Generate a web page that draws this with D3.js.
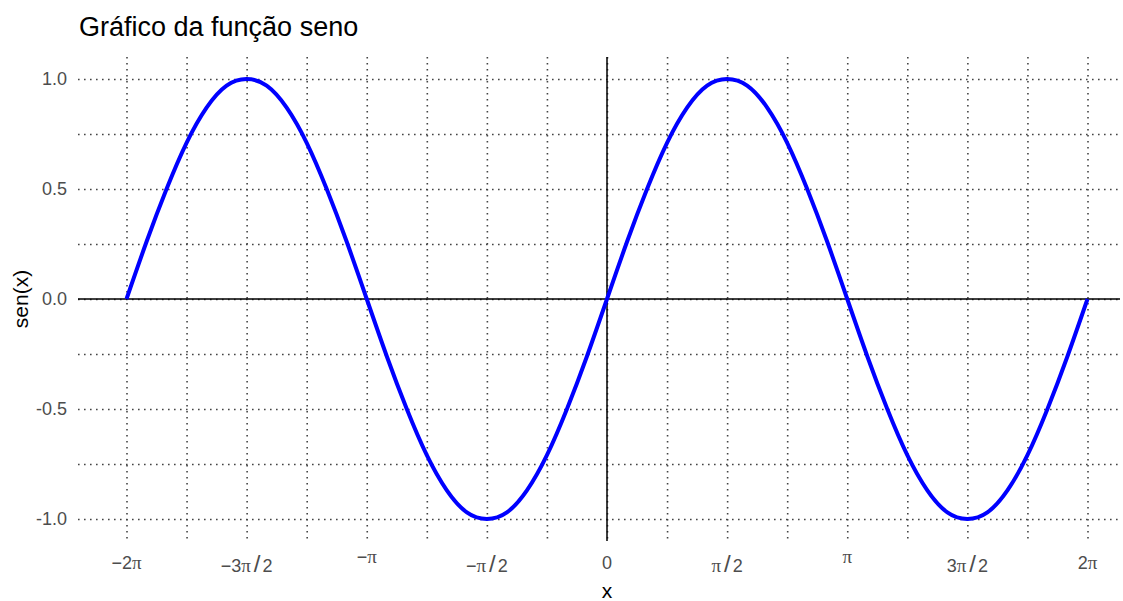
<!doctype html>
<html>
<head>
    <meta charset="utf8">
    <style>
        body { margin: 0; background: #fff; }
        text { font-family: "Liberation Sans", Arial, sans-serif; }
        .grid line { stroke: #444; stroke-width: 1.6; stroke-dasharray: 1.6 4.4; }
        .grid path { display: none; }
        .ticks path, .ticks line { display: none; }
        .ticks text { fill: #4d4d4d; font-size: 18px; }
        .zero { stroke: #000; stroke-width: 1.5; }
        .curve { fill: none; stroke: #0000ff; stroke-width: 4; stroke-linejoin: round; }
    </style>
    <script src="https://d3js.org/d3.v7.min.js"></script>
</head>
<body>
<svg width="1123" height="601"></svg>
<script>

    // x sample positions, in units of pi/12
    var xSteps = [-24, -23, -22, -21, -20, -19, -18, -17, -16, -15, -14, -13,
                  -12, -11, -10, -9, -8, -7, -6, -5, -4, -3, -2, -1,
                  0, 1, 2, 3, 4, 5, 6, 7, 8, 9, 10, 11, 12,
                  13, 14, 15, 16, 17, 18, 19, 20, 21, 22, 23, 24];
    // sen(x) at those positions
    var ySen = [0, 0.26, 0.5, 0.71, 0.87, 0.97, 1, 0.97, 0.87, 0.71, 0.5, 0.26,
                0, -0.26, -0.5, -0.71, -0.87, -0.97, -1, -0.97, -0.87, -0.71, -0.5, -0.26,
                0, 0.26, 0.5, 0.71, 0.87, 0.97, 1, 0.97, 0.87, 0.71, 0.5, 0.26, 0,
                -0.26, -0.5, -0.71, -0.87, -0.97, -1, -0.97, -0.87, -0.71, -0.5, -0.26, 0];

    // ticks in units of pi
    var xTickVals = [-2, -1.5, -1, -0.5, 0, 0.5, 1, 1.5, 2];
    var xTickLabels = ["\u22122\u03c0", "\u22123\u03c0/2", "\u2212\u03c0", "\u2212\u03c0/2", "0",
                       "\u03c0/2", "\u03c0", "3\u03c0/2", "2\u03c0"];
    var xMinorVals = [-1.75, -1.25, -0.75, -0.25, 0.25, 0.75, 1.25, 1.75];
    var yTickVals = [-1, -0.5, 0, 0.5, 1];
    var yTickLabels = ["-1.0", "-0.5", "0.0", "0.5", "1.0"];
    var yMinorVals = [-0.75, -0.25, 0.25, 0.75];

    var svg = d3.select("svg"),
        pLeft = 78, pRight = 1120, pTop = 57, pBottom = 541;

    var x = d3.scaleLinear().domain([-2 * Math.PI, 2 * Math.PI]).range([126.5, 1087.5]),
        y = d3.scaleLinear().domain([-1, 1]).range([519, 79]);

    function px(v) { return x(v * Math.PI); }

    // grid
    svg.append("g")
       .attr("class", "grid")
       .attr("transform", "translate(" + pLeft + ",0)")
       .call(d3.axisLeft(y).tickValues(yTickVals.concat(yMinorVals))
               .tickSize(-(pRight - pLeft)).tickFormat(""));

    svg.append("g")
       .attr("class", "grid")
       .attr("transform", "translate(0," + pTop + ")")
       .call(d3.axisBottom(x).tickValues(xTickVals.concat(xMinorVals).map(function(d) { return d * Math.PI; }))
               .tickSize(pBottom - pTop).tickFormat(""));

    // zero lines
    svg.append("line").attr("class", "zero")
       .attr("x1", pLeft).attr("x2", pRight).attr("y1", y(0)).attr("y2", y(0));
    svg.append("line").attr("class", "zero")
       .attr("x1", x(0)).attr("x2", x(0)).attr("y1", pTop).attr("y2", pBottom);

    // curve
    var line = d3.line()
        .x(function(d, i) { return x(xSteps[i] * Math.PI / 12); })
        .y(function(d) { return y(d); })
        .curve(d3.curveNatural);

    svg.append("path")
       .datum(ySen)
       .attr("class", "curve")
       .attr("d", line);

    // y tick labels
    svg.append("g")
       .attr("class", "ticks")
       .attr("transform", "translate(" + pLeft + ",0)")
       .call(d3.axisLeft(y).tickValues(yTickVals)
               .tickFormat(function(d, i) { return yTickLabels[i]; })
               .tickSize(0).tickPadding(11));

    // x tick labels (plotmath-like: serif pi, tall slash)
    var xt = svg.append("g").attr("class", "ticks");
    xTickVals.forEach(function(v, i) {
        var lab = xTickLabels[i];
        var base = 569;
        if (lab.indexOf("/") >= 0) base = 572;
        else if (!/[0-9]/.test(lab)) base = 563;
        var t = xt.append("text")
                  .attr("x", px(v))
                  .attr("y", base)
                  .attr("text-anchor", "middle");
        lab.split("").forEach(function(ch, j) {
            var s = t.append("tspan").text(ch);
            if (ch === "\u03c0") s.attr("font-family", "Liberation Serif").attr("font-size", "19px");
            if (ch === "\u2212") s.attr("dx", 0);
            if (ch === "/") s.attr("font-size", "24px").attr("font-weight", "300").attr("dx", 3);
            if (j > 0 && lab[j - 1] === "/") s.attr("dx", 2);
        });
    });

    // titles
    svg.append("text")
       .attr("x", 79)
       .attr("y", 36)
       .attr("font-size", "27px")
       .attr("fill", "#000")
       .text("Gráfico da função seno");

    svg.append("text")
       .attr("x", x(0))
       .attr("y", 598)
       .attr("text-anchor", "middle")
       .attr("font-size", "21px")
       .text("x");

    svg.append("text")
       .attr("transform", "translate(28," + y(0) + ") rotate(-90)")
       .attr("text-anchor", "middle")
       .attr("font-size", "21px")
       .text("sen(x)");

</script>
</body>
</html>
